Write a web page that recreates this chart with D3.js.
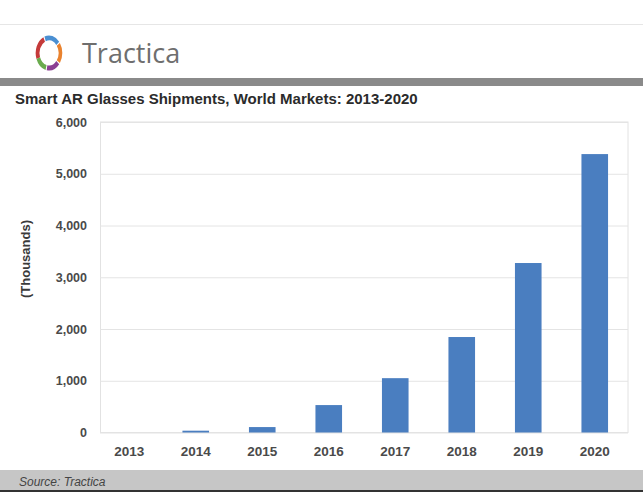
<!DOCTYPE html>
<html>
<head>
<meta charset="utf-8">
<script src="https://cdn.jsdelivr.net/npm/d3@7"></script>
<style>
  body { margin: 0; background: #fff; }
  svg { display: block; font-family: "Liberation Sans", Arial, sans-serif; }
</style>
</head>
<body>
<div id="chartArea"></div>
<script>
const years = ["2013", "2014", "2015", "2016", "2017", "2018", "2019", "2020"];
const shipments = [0, 35, 105, 530, 1050, 1845, 3275, 5380];
const yTicks = [0, 1000, 2000, 3000, 4000, 5000, 6000];
const title = "Smart AR Glasses Shipments, World Markets: 2013-2020";
const logoColors = ["#c43a3a", "#4a8fd2", "#e9822e", "#8c3f93", "#6aab4e"];

(function() {
  const W = 643, H = 498;
  const svg = d3.select("#chartArea").append("svg")
    .attr("width", W).attr("height", H);

  // header
  svg.append("line")
    .attr("x1", 0).attr("x2", W).attr("y1", 24.5).attr("y2", 24.5)
    .attr("stroke", "#e6e6e6");

  const logo = svg.append("g").attr("transform", "translate(49,53) scale(0.95,1.25)");
  const arc = d3.arc().innerRadius(10).outerRadius(14);
  const segs = [[-110, -25], [-20, 50], [55, 125], [130, 190], [195, 250]];
  logo.selectAll("path")
    .data(segs)
    .enter()
    .append("path")
    .attr("d", d => arc({ startAngle: d[0] * Math.PI / 180, endAngle: d[1] * Math.PI / 180 }))
    .attr("fill", (d, i) => logoColors[i]);

  svg.append("text")
    .attr("x", 82).attr("y", 63)
    .attr("font-family", "'Open Sans', sans-serif")
    .attr("font-size", 27)
    .attr("fill", "#6e6e6e")
    .text("Tractica");

  svg.append("rect")
    .attr("x", 0).attr("y", 78).attr("width", W).attr("height", 8)
    .attr("fill", "#8a8a8a");

  svg.append("text")
    .attr("x", 15).attr("y", 104)
    .attr("font-size", 15).attr("font-weight", "bold")
    .attr("fill", "#2b2b2b")
    .text(title);

  // plot
  const x = d3.scaleBand().domain(years).range([96, 628]).paddingInner(0.6).paddingOuter(0.3);
  const y = d3.scaleLinear().domain([0, 6000]).range([432.5, 122]);

  svg.append("rect")
    .attr("x", 100.5).attr("y", y(6000))
    .attr("width", 628 - 100.5).attr("height", y(0) - y(6000))
    .attr("fill", "none").attr("stroke", "#e2e2e2");

  const yAxis = d3.axisLeft(y)
    .tickValues(yTicks)
    .tickFormat(d3.format(","))
    .tickSize(-(628 - 100))
    .tickPadding(13);

  const gy = svg.append("g")
    .attr("class", "y axis")
    .attr("transform", "translate(100,0)")
    .call(yAxis);
  gy.select(".domain").remove();
  gy.selectAll(".tick line").attr("stroke", "#e4e4e4");
  gy.selectAll(".tick text")
    .attr("font-size", 12.5).attr("font-weight", "bold")
    .attr("fill", "#4a4a4a");

  svg.selectAll("rect.bar")
    .data(shipments)
    .enter()
    .append("rect")
    .attr("class", "bar")
    .attr("x", (d, i) => x(years[i]))
    .attr("width", x.bandwidth())
    .attr("y", d => y(d))
    .attr("height", d => y(0) - y(d))
    .attr("fill", "#4a7ec0");

  const xAxis = d3.axisBottom(x).tickSize(0).tickPadding(14);
  const gx = svg.append("g")
    .attr("class", "x axis")
    .attr("transform", "translate(0," + y(0) + ")")
    .call(xAxis);
  gx.select(".domain").remove();
  gx.selectAll(".tick text")
    .attr("font-size", 13.5).attr("font-weight", "bold")
    .attr("fill", "#4a4a4a");

  svg.append("text")
    .attr("transform", "translate(30,259) rotate(-90)")
    .attr("text-anchor", "middle")
    .attr("font-size", 13).attr("font-weight", "bold")
    .attr("fill", "#3a3a3a")
    .text("(Thousands)");

  // footer
  svg.append("rect")
    .attr("x", 0).attr("y", 470).attr("width", W).attr("height", 20)
    .attr("fill", "#c6c6c6");
  svg.append("rect")
    .attr("x", 0).attr("y", 490).attr("width", W).attr("height", 2)
    .attr("fill", "#333");
  svg.append("text")
    .attr("x", 19).attr("y", 486)
    .attr("font-size", 12).attr("font-style", "italic")
    .attr("fill", "#444")
    .text("Source: Tractica");
})();
</script>
</body>
</html>
